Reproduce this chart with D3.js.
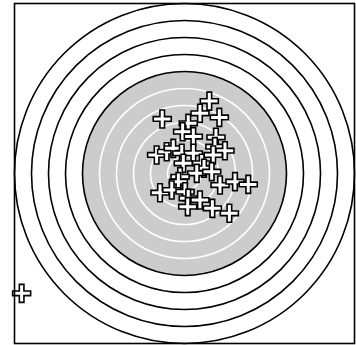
<!DOCTYPE html>
<html>
<head>
<meta charset="utf-8">
<script src="https://cdn.jsdelivr.net/npm/d3@7"></script>
<style>
  body { margin: 0; background: #fff; }
  svg { display: block; }
</style>
</head>
<body>
<script>
// target rings (score units), outer black rings and inner white rings
var blackRings = [10, 9, 8, 7, 6];
var whiteRings = [5, 4, 3, 2, 1];
var grayRadius = 6;

// shot positions
var shotX = [1.46, 0.91, 0.22, -0.11, 2.05, -1.31, 0.52, 1.85, 1.79, 2.38,
             -1.64, -1.05, -0.66, -0.16, 0.52, 1.69, -0.07, 1.01, 1.15, 0.72,
             1.60, -0.26, -0.36, 2.09, 2.97, 3.75, -1.44, -0.75, 0.03, 0.22,
             0.91, 0.19, 1.64, 2.64, -9.58];
var shotY = [4.26, 3.54, 2.95, 2.46, 3.30, 3.21, 2.17, 2.13, 1.58, 1.34,
             1.09, 1.28, 1.48, 1.19, 1.19, 1.09, 0.60, 0.60, 0.31, 0.01,
             0.11, -0.19, -0.48, -0.68, -0.48, -0.64, -1.13, -0.97, -1.07, -1.46,
             -1.56, -1.95, -2.05, -2.34, -7.05];

var W = 356, H = 345;
var x = d3.scaleLinear().domain([-10, 10]).range([14.5, 354.5]);
var y = d3.scaleLinear().domain([-10, 10]).range([343.5, 3.5]);

var svg = d3.select("body").append("svg").attr("width", W).attr("height", H);

var g = svg.append("g");
var r = function(k) { return x(k) - x(0); };

g.selectAll("circle.black").data(blackRings).enter().append("circle")
  .attr("class", "black")
  .attr("cx", x(0)).attr("cy", y(0)).attr("r", r)
  .attr("fill", function(d) { return d == grayRadius ? "#cccccc" : "none"; })
  .attr("stroke", "#000").attr("stroke-width", 1.6);

g.selectAll("circle.white").data(whiteRings).enter().append("circle")
  .attr("class", "white")
  .attr("cx", x(0)).attr("cy", y(0)).attr("r", r)
  .attr("fill", "none").attr("stroke", "#fff").attr("stroke-width", 1.6);

// plus marker
var a = 9, b = 2.3;
var plus = "M" + (-b) + "," + (-a) + "H" + b + "V" + (-b) + "H" + a + "V" + b +
  "H" + b + "V" + a + "H" + (-b) + "V" + b + "H" + (-a) + "V" + (-b) + "H" + (-b) + "Z";

svg.selectAll("path.shot").data(d3.range(shotX.length)).enter().append("path")
  .attr("class", "shot")
  .attr("transform", function(i) { return "translate(" + x(shotX[i]) + "," + y(shotY[i]) + ")"; })
  .attr("d", plus)
  .attr("fill", "#fff").attr("stroke", "#000").attr("stroke-width", 1.6);

svg.append("rect").attr("x", x(-10)).attr("y", y(10))
  .attr("width", x(10) - x(-10)).attr("height", y(-10) - y(10))
  .attr("fill", "none").attr("stroke", "#000").attr("stroke-width", 1.6);
</script>
</body>
</html>
